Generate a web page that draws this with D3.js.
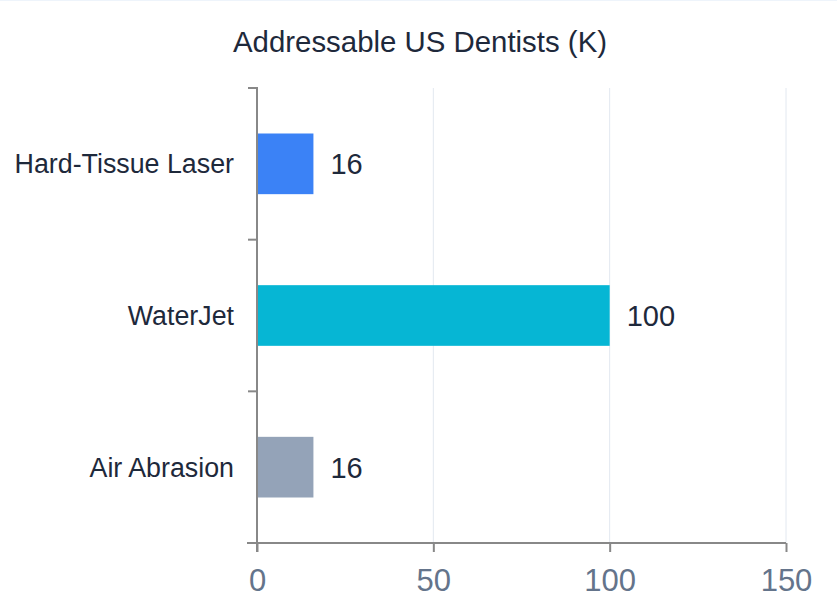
<!DOCTYPE html>
<html><head><meta charset="utf-8">
<script src="https://cdn.jsdelivr.net/npm/d3@7"></script>
<style>html,body{margin:0;padding:0;background:#fff;}svg{display:block;font-family:"Liberation Sans",Arial,sans-serif;}</style>
</head><body>
<svg id="c" width="837" height="614"></svg>
<script>
const categories = ["Hard-Tissue Laser", "WaterJet", "Air Abrasion"];
const values = [16, 100, 16];
const barColors = ["#3b82f6", "#06b6d4", "#94a3b8"];
const xTicks = [0, 50, 100, 150];
const title = "Addressable US Dentists (K)";

(function(){
const svg = d3.select("#c");
const mLeft = 257, mRight = 786, mTop = 88, mBottom = 543;

svg.append("line").attr("x1",0).attr("x2",837).attr("y1",0.5).attr("y2",0.5)
  .attr("stroke","#eef4fb").attr("stroke-width",1);

const x = d3.scaleLinear().domain([0,150]).range([mLeft,mRight]);
const y = d3.scaleBand().domain(categories).range([mTop,mBottom]).padding(0);

svg.append("g").selectAll("line").data(xTicks.slice(1)).join("line")
  .attr("x1",d=>x(d)).attr("x2",d=>x(d)).attr("y1",mTop).attr("y2",mBottom)
  .attr("stroke","#e2e8f0").attr("stroke-width",1);

svg.append("text").attr("x",420).attr("y",52).attr("text-anchor","middle")
  .attr("font-size",29.4).attr("fill","#1e293b").text(title);

const bh = y.bandwidth()*0.4;
svg.append("g").selectAll("rect").data(values).join("rect")
  .attr("x",x(0)).attr("width",d=>x(d)-x(0))
  .attr("y",(d,i)=>y(categories[i])+y.bandwidth()/2-bh/2).attr("height",bh)
  .attr("fill",(d,i)=>barColors[i]);

svg.append("g").selectAll("text").data(values).join("text")
  .attr("x",d=>x(d)+17).attr("y",(d,i)=>y(categories[i])+y.bandwidth()/2+10.5)
  .attr("font-size",29).attr("fill","#1e293b").text(d=>d);

const xa = svg.append("g").attr("transform",`translate(0,${mBottom})`)
  .call(d3.axisBottom(x).tickValues(xTicks).tickSize(9).tickSizeOuter(0).tickPadding(17));
xa.select(".domain").attr("stroke","#888").attr("stroke-width",2).attr("d",`M${mLeft-10},0H${mRight}`);
xa.selectAll(".tick line").attr("stroke","#888").attr("stroke-width",2);
xa.selectAll(".tick text").attr("font-size",31).attr("fill","#64748b")
  .attr("font-family","Liberation Sans, Arial, sans-serif").attr("dy","0.71em");

const yg = svg.append("g");
yg.append("line").attr("x1",mLeft).attr("x2",mLeft).attr("y1",mTop-1).attr("y2",mBottom+9)
  .attr("stroke","#888").attr("stroke-width",2);
const bounds = categories.map(c=>y(c)).concat([y.range()[1]]);
yg.selectAll("line.t").data(bounds).join("line").attr("class","t")
  .attr("x1",mLeft-9).attr("x2",mLeft).attr("y1",d=>d).attr("y2",d=>d)
  .attr("stroke","#888").attr("stroke-width",2);
yg.selectAll("text").data(categories).join("text")
  .attr("x",234).attr("y",c=>y(c)+y.bandwidth()/2+9.5).attr("text-anchor","end")
  .attr("font-size",26.8).attr("fill","#1e293b").text(c=>c);
})();
</script>
</body></html>
